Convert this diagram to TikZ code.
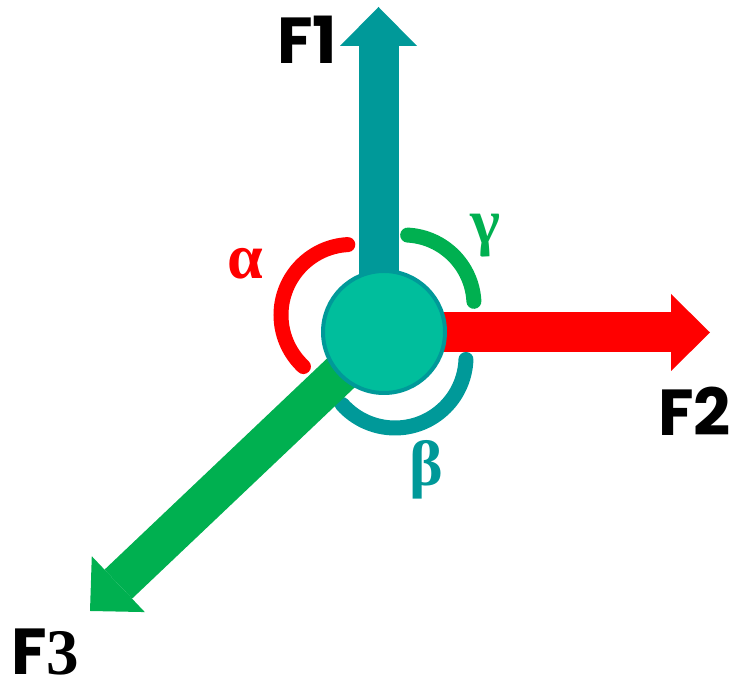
\documentclass[tikz,border=0pt]{standalone}
\usepackage{fontspec}
\setmainfont{Liberation Serif}
\newfontfamily\labfont{Poppins}
\usetikzlibrary{arrows.meta}
\definecolor{fteal}{HTML}{009999}
\definecolor{fred}{HTML}{FF0000}
\definecolor{fgreen}{HTML}{00B050}
\definecolor{ffill}{HTML}{00BE9C}
\begin{document}
\begin{tikzpicture}[x=1pt,y=1pt,
  force/.style={line width=40pt, -{Triangle[width=77pt,length=39pt,line width=0pt]}},
  angarc/.style={line width=15pt, line cap=round},
  flabel/.style={font=\labfont\bfseries\fontsize{65}{65}\selectfont, inner sep=0pt, anchor=base west},
  glabel/.style={font=\bfseries\fontsize{64}{64}\selectfont, inner sep=0pt, anchor=base}]
\useasboundingbox (0,0) rectangle (740,685);
% centres
\coordinate (c) at (384,353);
\coordinate (f1s) at (378.5,353);
\coordinate (f1t) at (378.5,678);
\coordinate (f2s) at (384,352.5);
\coordinate (f2t) at (710,352.5);
\coordinate (f3t) at (90,74);
\coordinate (ra) at (351.5,370);
\coordinate (ga) at (404,380);
\coordinate (ta) at (395,328);
% angle arcs
\draw[angarc, fred] (ra) ++(93:70.5) arc[start angle=93, end angle=227, radius=70.5];
\draw[angarc, fgreen] (ga) ++(3:70) arc[start angle=3, end angle=87, radius=70];
\draw[angarc, fteal] (ta) ++(222:71) arc[start angle=222, end angle=358, radius=71];
% forces
\draw[force, fteal] (f1s) -- (f1t);
\draw[force, fred] (f2s) -- (f2t);
\draw[force, fgreen] (c) -- (f3t);
% hub
\node[circle, draw=fteal, line width=4pt, fill=ffill, minimum size=122pt, inner sep=0pt] (hub) at (c) {};
% labels
\node[flabel] (lf1) at (277,621) {F1};
\node[flabel] (lf2) at (658,249) {F2};
\node[flabel] (lf3) at (11,10) {F{\rmfamily\bfseries 3}};
\node[glabel, fred] (la) at (245.5,406) {α};
\node[glabel, fteal] (lb) at (426,199) {β};
\node[glabel, fgreen] (lg) at (485,441) {γ};
\end{tikzpicture}
\end{document}
